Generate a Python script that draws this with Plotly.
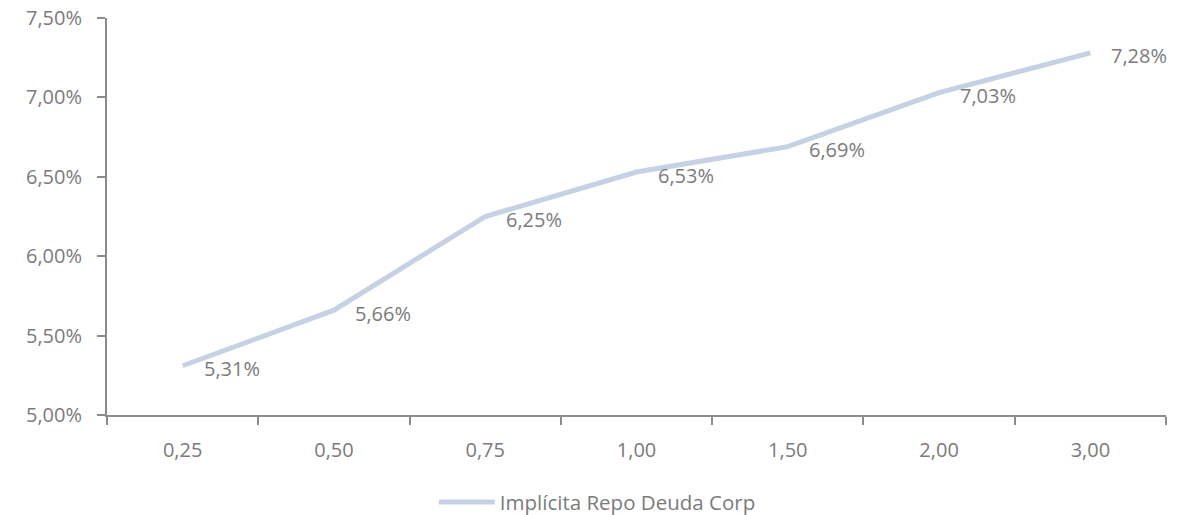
import plotly.graph_objects as go

categories = ["0,25", "0,50", "0,75", "1,00", "1,50", "2,00", "3,00"]
values = [5.31, 5.66, 6.25, 6.53, 6.69, 7.03, 7.28]
series_name = "Implícita Repo Deuda Corp"
y_ticks = [5.0, 5.5, 6.0, 6.5, 7.0, 7.5]

FONT = "Open Sans"
GREY = "#7b7b7b"
AXIS = "#8c8c8c"
LINE = "#c7d1e4"

def pct(v):
    return f"{v:.2f}".replace(".", ",") + "%"

fig = go.Figure()
fig.add_trace(go.Scatter(
    x=categories, y=values, mode="lines", name=series_name,
    line=dict(color=LINE, width=5),
))

for c, v in zip(categories, values):
    fig.add_annotation(
        x=c, y=v, text=pct(v), showarrow=False,
        xanchor="left", yanchor="middle", xshift=19, yshift=-3,
        font=dict(family=FONT, size=20, color=GREY),
    )

fig.update_layout(
    width=1193, height=515,
    margin=dict(l=107, r=27, t=18, b=100, autoexpand=False),
    plot_bgcolor="white", paper_bgcolor="white",
    font=dict(family=FONT, size=20, color=GREY),
    showlegend=True,
    legend=dict(orientation="h", x=0.463, xanchor="center",
                yref="container", y=0.025, yanchor="middle",
                itemwidth=56, font=dict(family=FONT, size=20.5, color=GREY)),
)
fig.update_xaxes(
    type="category", range=[-0.5, len(categories) - 0.5], automargin=False,
    showline=True, linecolor=AXIS, linewidth=2,
    ticks="outside", tickson="boundaries", ticklen=8, tickcolor=AXIS, tickwidth=2,
    showgrid=False, zeroline=False, ticklabelstandoff=16,
)
fig.update_yaxes(
    range=[5.0, 7.5], tickvals=y_ticks, ticktext=[pct(t) for t in y_ticks],
    automargin=False,
    showline=True, linecolor=AXIS, linewidth=2,
    ticks="outside", ticklen=8, tickcolor=AXIS, tickwidth=2,
    showgrid=False, zeroline=False, ticklabelstandoff=11,
)

fig.write_html("out.html")
